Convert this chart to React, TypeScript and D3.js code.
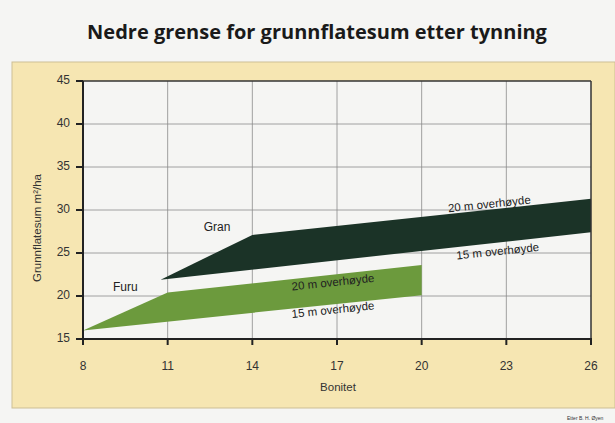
import { useMemo } from 'react';
import * as d3 from 'd3';

const W = 615;
const H = 423;
const PLOT = { left: 83, right: 591, top: 81, bottom: 339 };

const X_TICKS = [8, 11, 14, 17, 20, 23, 26];
const Y_TICKS = [15, 20, 25, 30, 35, 40, 45];

// Gran (spruce) band: upper edge = 20 m overhøyde, lower edge = 15 m overhøyde
const GRAN_UPPER_X = [10.75, 14, 26];
const GRAN_UPPER_Y = [21.9, 27.1, 31.3];
const GRAN_LOWER_X = [10.75, 26];
const GRAN_LOWER_Y = [21.9, 27.4];

// Furu (pine) band
const FURU_UPPER_X = [8, 11, 20];
const FURU_UPPER_Y = [16, 20.4, 23.6];
const FURU_LOWER_X = [8, 20];
const FURU_LOWER_Y = [16, 20.1];

const GRAN_COLOR = '#1b3327';
const FURU_COLOR = '#6c9a3d';
const PANEL_COLOR = '#f6e6b2';
const FONT = "'Liberation Sans', Arial, sans-serif";

export default function App() {
  const x = useMemo(() => d3.scaleLinear().domain([8, 26]).range([PLOT.left, PLOT.right]), []);
  const y = useMemo(() => d3.scaleLinear().domain([15, 45]).range([PLOT.bottom, PLOT.top]), []);

  const band = (ux: number[], uy: number[], lx: number[], ly: number[]) => {
    const pts: [number, number][] = [
      ...ux.map((v, i) => [x(v), y(uy[i])] as [number, number]),
      ...lx.map((v, i) => [x(v), y(ly[i])] as [number, number]).reverse(),
    ];
    return d3.line()(pts) + 'Z';
  };

  const bandLabel = (text: string, bx: number, by: number, angle: number) => (
    <text
      x={x(bx)} y={y(by)}
      textAnchor="middle" dominantBaseline="middle"
      transform={`rotate(${angle}, ${x(bx)}, ${y(by)})`}
      fontFamily={FONT} fontSize={11.5} fill="#222"
    >
      {text}
    </text>
  );

  return (
    <div style={{ position: 'absolute', left: 0, top: 0 }}>
      <svg width={W} height={H} style={{ display: 'block', background: '#f5f5f3' }}>
        <text x={317} y={39} textAnchor="middle" fontFamily="'Open Sans', sans-serif" fontWeight={700} fontSize={20} fill="#1a1a1a">
          Nedre grense for grunnflatesum etter tynning
        </text>

        {/* Yellow panel */}
        <rect x={12} y={62} width={W - 12} height={346} fill={PANEL_COLOR} stroke="#cdbf95" strokeWidth={1} />

        {/* Plot background */}
        <rect x={PLOT.left} y={PLOT.top} width={PLOT.right - PLOT.left} height={PLOT.bottom - PLOT.top} fill="#f5f5f3" />

        {/* Grid */}
        {X_TICKS.slice(1, -1).map((t) => (
          <line key={`gx${t}`} x1={x(t)} x2={x(t)} y1={PLOT.top} y2={PLOT.bottom} stroke="#8a8a8a" strokeWidth={0.8} />
        ))}
        {Y_TICKS.slice(1, -1).map((t) => (
          <line key={`gy${t}`} x1={PLOT.left} x2={PLOT.right} y1={y(t)} y2={y(t)} stroke="#8a8a8a" strokeWidth={0.8} />
        ))}

        {/* Bands */}
        <path d={band(FURU_UPPER_X, FURU_UPPER_Y, FURU_LOWER_X, FURU_LOWER_Y)} fill={FURU_COLOR} />
        <path d={band(GRAN_UPPER_X, GRAN_UPPER_Y, GRAN_LOWER_X, GRAN_LOWER_Y)} fill={GRAN_COLOR} />

        {/* Frame */}
        <line x1={PLOT.left} x2={PLOT.right} y1={PLOT.top} y2={PLOT.top} stroke="#333" strokeWidth={1.5} />
        <line x1={PLOT.right} x2={PLOT.right} y1={PLOT.top} y2={PLOT.bottom} stroke="#333" strokeWidth={1.5} />
        <line x1={PLOT.left} x2={PLOT.left} y1={PLOT.top} y2={PLOT.bottom + 1} stroke="#222" strokeWidth={2} />
        <line x1={PLOT.left - 1} x2={PLOT.right + 1} y1={PLOT.bottom} y2={PLOT.bottom} stroke="#222" strokeWidth={2} />

        {/* X ticks */}
        {X_TICKS.map((t) => (
          <g key={`xt${t}`}>
            <line x1={x(t)} x2={x(t)} y1={PLOT.bottom} y2={PLOT.bottom + 6} stroke="#222" strokeWidth={2} />
            <text x={x(t)} y={370} textAnchor="middle" fontFamily={FONT} fontSize={12} fill="#333">{t}</text>
          </g>
        ))}
        {/* Y ticks */}
        {Y_TICKS.map((t) => (
          <g key={`yt${t}`}>
            <line x1={PLOT.left - 7} x2={PLOT.left} y1={y(t)} y2={y(t)} stroke="#222" strokeWidth={2} />
            <text x={70} y={y(t)} textAnchor="end" dominantBaseline="middle" fontFamily={FONT} fontSize={12} fill="#333">{t}</text>
          </g>
        ))}

        {/* Axis titles */}
        <text x={338} y={391} textAnchor="middle" fontFamily={FONT} fontSize={11.5} fill="#333">Bonitet</text>
        <text
          transform="translate(41, 228) rotate(-90)"
          textAnchor="middle" fontFamily={FONT} fontSize={11.5} fill="#333"
        >
          Grunnflatesum m²/ha
        </text>

        {/* Species labels */}
        <text x={x(12.75)} y={y(27.9)} textAnchor="middle" dominantBaseline="middle" fontFamily={FONT} fontSize={12} fill="#222">Gran</text>
        <text x={x(9.5)} y={y(21)} textAnchor="middle" dominantBaseline="middle" fontFamily={FONT} fontSize={12} fill="#222">Furu</text>

        {bandLabel('20 m overhøyde', 22.4, 30.6, -6)}
        {bandLabel('15 m overhøyde', 22.7, 25.1, -6)}
        {bandLabel('20 m overhøyde', 16.86, 21.5, -6)}
        {bandLabel('15 m overhøyde', 16.86, 18.3, -6)}

        <text x={567} y={420} fontFamily={FONT} fontSize={5} fill="#333">Etter B. H. Øyen</text>
      </svg>
    </div>
  );
}
